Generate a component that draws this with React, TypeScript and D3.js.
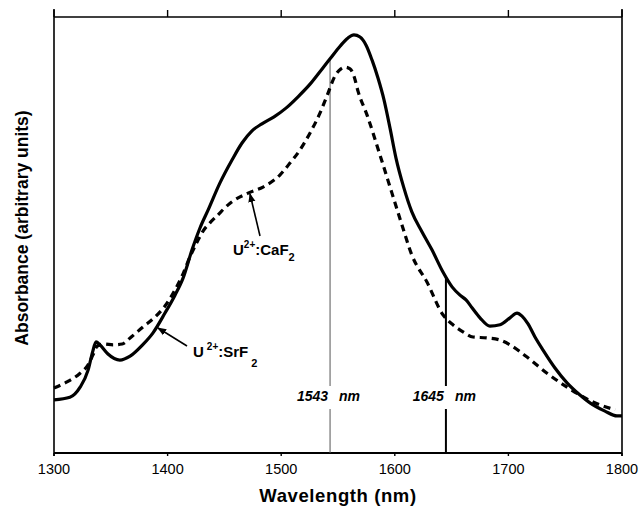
import React from "react";
import * as d3 from "d3";

// Wavelength (nm) and absorbance (arbitrary units, 0-100)
const srf2Wavelength = [1300, 1314, 1323, 1330, 1334, 1337, 1340.5, 1347.5, 1358, 1367, 1378, 1387, 1397.7, 1406.5, 1413.6, 1421.5, 1428.5, 1435.6, 1446, 1456.7, 1465.5, 1474.3, 1483, 1493.7, 1504.2, 1514.8, 1525.4, 1536, 1543, 1551.8, 1558.8, 1564, 1569.4, 1574.6, 1580, 1585.2, 1590.5, 1595.8, 1601, 1608, 1615, 1624, 1632.7, 1642.4, 1650.4, 1657.4, 1662.7, 1668, 1675, 1683.8, 1692.6, 1701.4, 1707.6, 1712, 1717.3, 1723.4, 1730.5, 1741, 1751.6, 1763, 1771.8, 1785, 1795.6, 1800];
const srf2Absorbance = [12.2, 12.8, 15.1, 19.0, 23.2, 25.5, 24.8, 22.7, 21.3, 22.2, 24.8, 27.5, 32.1, 36.2, 40.1, 46.6, 51.6, 55.7, 61.9, 67.2, 71.1, 73.9, 75.5, 77.1, 79.1, 81.7, 84.6, 88.1, 90.4, 93.3, 95.2, 95.9, 95.4, 93.6, 90.1, 86.0, 81.0, 74.5, 67.7, 60.8, 55.3, 50.7, 46.6, 41.5, 38.1, 36.2, 35.1, 33.3, 31.0, 29.1, 29.4, 31.0, 32.1, 31.4, 29.6, 26.6, 23.6, 19.5, 16.1, 13.3, 11.5, 9.6, 8.5, 8.5];

const caf2Wavelength = [1300, 1311.4, 1323, 1330, 1334.3, 1338, 1344, 1352, 1360, 1367, 1378.3, 1389, 1397.7, 1406.5, 1413.6, 1419.7, 1426, 1431.2, 1437.3, 1443.5, 1455, 1470.8, 1484, 1499, 1507.7, 1516.5, 1525.4, 1534.2, 1540.3, 1547.4, 1552.6, 1556.2, 1560.6, 1564, 1567.6, 1575.6, 1587, 1597.5, 1606.3, 1615, 1628.3, 1642.4, 1651.2, 1660, 1668.8, 1681.2, 1692.6, 1701.4, 1716.4, 1734, 1751.6, 1774.5, 1794];
const caf2Absorbance = [14.9, 16.3, 18.3, 20.2, 22.5, 24.5, 25.0, 24.8, 25.0, 26.4, 28.9, 31.2, 33.7, 37.4, 41.1, 45.0, 48.4, 50.9, 52.8, 54.4, 57.3, 59.6, 61.0, 63.8, 66.5, 69.5, 73.4, 78.0, 81.9, 86.5, 88.1, 88.5, 88.1, 86.5, 83.0, 77.5, 68.3, 59.6, 52.3, 45.4, 39.2, 31.7, 29.4, 27.8, 26.6, 26.4, 25.9, 24.8, 22.0, 18.3, 15.1, 11.7, 9.9];

const xTicks = [1300, 1400, 1500, 1600, 1700, 1800];
const markerWavelengths = [1543, 1645];
const markerLabels = ["1543", "1645"];

const W = 639;
const H = 510;
const M = { left: 54, right: 622, top: 17, bottom: 453 };

export default function App() {
  const x = d3.scaleLinear().domain([1300, 1800]).range([M.left, M.right]);
  const y = d3.scaleLinear().domain([0, 100]).range([M.bottom, M.top]);

  const srf2 = srf2Wavelength.map((w, i) => [w, srf2Absorbance[i]] as [number, number]);
  const caf2 = caf2Wavelength.map((w, i) => [w, caf2Absorbance[i]] as [number, number]);

  const line = d3
    .line<[number, number]>()
    .x((d) => x(d[0]))
    .y((d) => y(d[1]))
    .curve(d3.curveMonotoneX);

  const interp = (w: number) => {
    const i = d3.bisector((d: [number, number]) => d[0]).left(srf2, w);
    const a = srf2[Math.max(0, i - 1)];
    const b = srf2[Math.min(srf2.length - 1, i)];
    if (a[0] === b[0]) return a[1];
    return a[1] + ((b[1] - a[1]) * (w - a[0])) / (b[0] - a[0]);
  };

  const font = "'Liberation Sans', Arial, Helvetica, sans-serif";
  const labelGapTop = 386;
  const labelGapBottom = 409;

  return (
    <svg width={W} height={H} style={{ position: "absolute", left: 0, top: 0, background: "#fff" }} fontFamily={font}>
      <defs>
        <marker id="arr" viewBox="0 0 10 10" refX="9" refY="5" markerWidth="9" markerHeight="9" orient="auto" markerUnits="userSpaceOnUse">
          <path d="M0,1 L10,5 L0,9 Z" fill="#000" />
        </marker>
      </defs>

      {/* frame */}
      <line x1={M.left} x2={M.right} y1={M.top} y2={M.top} stroke="#000" strokeWidth={1.6} />
      <line x1={M.left} x2={M.right} y1={M.bottom} y2={M.bottom} stroke="#000" strokeWidth={1.8} />
      <line x1={M.left} x2={M.left} y1={M.top - 8} y2={M.bottom + 3} stroke="#000" strokeWidth={1.6} />
      <line x1={M.right} x2={M.right} y1={M.top - 8} y2={M.bottom + 3} stroke="#000" strokeWidth={1.6} />

      {/* top and bottom ticks */}
      {xTicks.map((t) => (
        <g key={t}>
          <line x1={x(t)} x2={x(t)} y1={M.top} y2={M.top - 7} stroke="#000" strokeWidth={1.4} />
          <line x1={x(t)} x2={x(t)} y1={M.bottom} y2={M.bottom + 3} stroke="#000" strokeWidth={1.4} />
          <text x={x(t)} y={474} textAnchor="middle" fontSize={14.5}>
            {t}
          </text>
        </g>
      ))}

      {/* marker lines */}
      {markerWavelengths.map((w, i) => {
        const xx = x(w);
        const top = y(interp(w));
        const stroke = i === 0 ? "#555" : "#000";
        const sw = i === 0 ? 1 : 2;
        return (
          <g key={w}>
            <line x1={xx} x2={xx} y1={top} y2={labelGapTop} stroke={stroke} strokeWidth={sw} />
            <line x1={xx} x2={xx} y1={labelGapBottom} y2={M.bottom} stroke={stroke} strokeWidth={sw} />
            <text x={xx - 2} y={401} textAnchor="end" fontSize={14} fontWeight="bold" fontStyle="italic">
              {markerLabels[i]}
            </text>
            <text x={xx + 9} y={401} textAnchor="start" fontSize={14} fontWeight="bold" fontStyle="italic">
              nm
            </text>
          </g>
        );
      })}

      {/* curves */}
      <path d={line(caf2) || ""} fill="none" stroke="#000" strokeWidth={3.2} strokeDasharray="7,5" />
      <path d={line(srf2) || ""} fill="none" stroke="#000" strokeWidth={3.2} strokeLinejoin="round" />

      {/* annotations */}
      <line x1={260} y1={236} x2={250} y2={194} stroke="#000" strokeWidth={1.6} markerEnd="url(#arr)" />
      <text x={233} y={255} fontSize={15} fontWeight="bold">
        U<tspan fontSize={10} dy={-7}>2+</tspan>
        <tspan dy={7}>:CaF</tspan>
        <tspan fontSize={11} dy={6}>2</tspan>
      </text>

      <line x1={187} y1={346} x2={158} y2={328} stroke="#000" strokeWidth={1.6} markerEnd="url(#arr)" />
      <text x={193} y={357} fontSize={15} fontWeight="bold">
        U<tspan fontSize={10} dy={-7} dx={3}>2+</tspan>
        <tspan dy={7}>:SrF</tspan>
        <tspan fontSize={11} dy={10} dx={3}>2</tspan>
      </text>

      {/* axis titles */}
      <text x={338} y={502} textAnchor="middle" fontSize={18.5} fontWeight="bold" letterSpacing={0.6}>
        Wavelength (nm)
      </text>
      <text transform="translate(28,228) rotate(-90)" textAnchor="middle" fontSize={17.5} fontWeight="bold">
        Absorbance (arbitrary units)
      </text>
    </svg>
  );
}
